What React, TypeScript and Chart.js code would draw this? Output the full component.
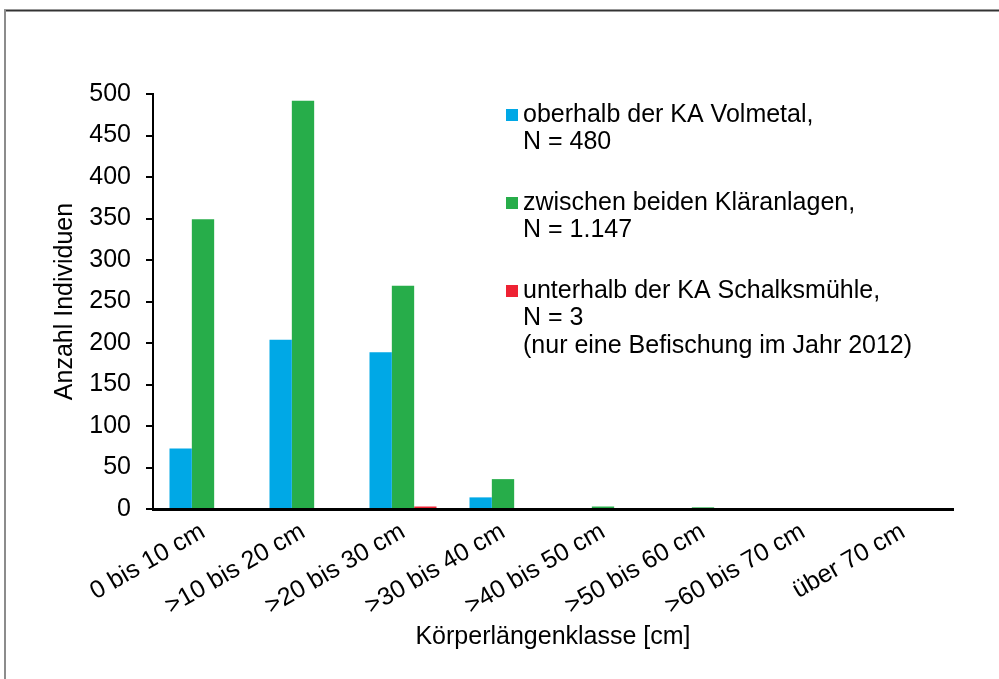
import React, { useEffect, useRef } from "react";
import { Chart, registerables } from "chart.js";

Chart.register(...registerables);

const categories = [
  "0 bis 10 cm",
  ">10 bis 20 cm",
  ">20 bis 30 cm",
  ">30 bis 40 cm",
  ">40 bis 50 cm",
  ">50 bis 60 cm",
  ">60 bis 70 cm",
  "über 70 cm",
];

const oberhalbValues = [73, 204, 189, 14, 0, 0, 0, 0];
const zwischenValues = [349, 492, 269, 36, 3, 2, 0, 0];
const unterhalbValues = [0, 0, 3, 0, 0, 0, 0, 0];

const seriesLabels = [
  ["oberhalb der KA Volmetal,", "N = 480"],
  ["zwischen beiden Kläranlagen,", "N = 1.147"],
  ["unterhalb der KA Schalksmühle,", "N = 3", "(nur eine Befischung im Jahr 2012)"],
];

const seriesColors = ["#00A8E6", "#27AD4A", "#EE2233"];

const yTitle = "Anzahl Individuen";
const xTitle = "Körperlängenklasse [cm]";

const FONT = "'Liberation Sans', Arial, sans-serif";

const framePlugin = {
  id: "frame",
  beforeDraw(chart: any) {
    const ctx = chart.ctx;
    ctx.save();
    ctx.fillStyle = "#fff";
    ctx.fillRect(0, 0, chart.width, chart.height);
    ctx.strokeStyle = "#333";
    ctx.lineWidth = 2;
    ctx.beginPath();
    ctx.moveTo(4, 10.5);
    ctx.lineTo(chart.width, 10.5);
    ctx.stroke();
    ctx.strokeStyle = "#8c8c8c";
    ctx.beginPath();
    ctx.moveTo(5, 10);
    ctx.lineTo(5, chart.height);
    ctx.stroke();
    ctx.restore();
  },
};

const customLegend = {
  id: "customLegend",
  afterDraw(chart: any, _args: any, opts: any) {
    const ctx = chart.ctx;
    ctx.save();
    ctx.font = `${opts.fontSize}px ${FONT}`;
    ctx.textBaseline = "middle";
    ctx.textAlign = "left";
    let y = opts.y;
    chart.data.datasets.forEach((ds: any) => {
      const lines: string[] = Array.isArray(ds.label) ? ds.label : [ds.label];
      ctx.fillStyle = ds.backgroundColor;
      ctx.fillRect(opts.boxX, y - opts.box / 2, opts.box, opts.box);
      ctx.fillStyle = "#000";
      lines.forEach((ln, i) => {
        ctx.fillText(ln, opts.textX, y + i * opts.lineHeight);
      });
      y += lines.length * opts.lineHeight + opts.gap;
    });
    ctx.restore();
  },
};

export default function App() {
  const ref = useRef<HTMLCanvasElement | null>(null);

  useEffect(() => {
    document.body.style.margin = "0";
    if (!ref.current) return;
    const chart = new Chart(ref.current, {
      type: "bar",
      data: {
        labels: categories,
        datasets: [
          { label: seriesLabels[0] as any, data: oberhalbValues, backgroundColor: seriesColors[0] },
          { label: seriesLabels[1] as any, data: zwischenValues, backgroundColor: seriesColors[1] },
          { label: seriesLabels[2] as any, data: unterhalbValues, backgroundColor: seriesColors[2] },
        ],
      },
      plugins: [framePlugin, customLegend],
      options: {
        responsive: false,
        animation: false,
        devicePixelRatio: 1,
        layout: { padding: { top: 94, right: 46, bottom: 0, left: 0 } },
        datasets: {
          bar: { categoryPercentage: 0.67, barPercentage: 1, borderWidth: 0 },
        } as any,
        plugins: {
          legend: { display: false },
          tooltip: { enabled: false },
          customLegend: {
            boxX: 506,
            textX: 523,
            y: 115,
            box: 12,
            fontSize: 25,
            lineHeight: 27.5,
            gap: 33,
          },
        } as any,
        scales: {
          x: {
            afterFit: (s: any) => {
              s.height = 170;
            },
            grid: { display: false },
            border: { display: true, color: "#000", width: 3 },
            ticks: {
              color: "#000",
              font: { family: FONT, size: 25 },
              minRotation: 30,
              maxRotation: 30,
              autoSkip: false,
              padding: 0,
            },
            title: {
              display: true,
              text: xTitle,
              color: "#000",
              font: { family: FONT, size: 25 },
              padding: { top: 0, bottom: 27 },
            },
          },
          y: {
            min: 0,
            max: 500,
            afterFit: (s: any) => {
              s.width = 153;
            },
            grid: {
              display: true,
              drawOnChartArea: false,
              drawTicks: true,
              tickLength: 7,
              color: "#000",
              lineWidth: 2,
            },
            border: { display: true, color: "#000", width: 2 },
            ticks: {
              stepSize: 50,
              color: "#000",
              font: { family: FONT, size: 25 },
              padding: 15,
            },
            title: {
              display: true,
              text: yTitle,
              color: "#000",
              font: { family: FONT, size: 25 },
              padding: { top: 50, bottom: 0 },
            },
          },
        },
      },
    });
    return () => chart.destroy();
  }, []);

  return (
    <canvas
      ref={ref}
      width={999}
      height={679}
      style={{ display: "block", width: 999, height: 679 }}
    />
  );
}
